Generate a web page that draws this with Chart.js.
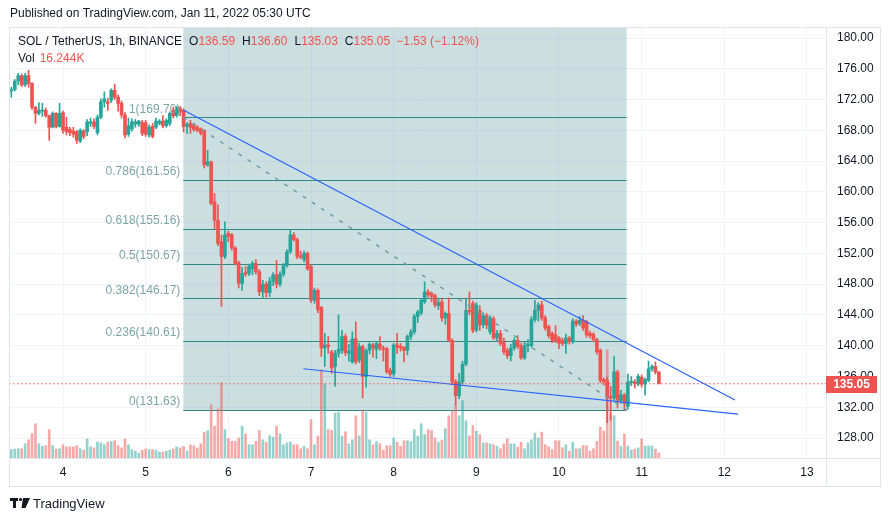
<!DOCTYPE html>
<html>
<head>
<meta charset="utf-8">
<script src="https://cdn.jsdelivr.net/npm/chart.js@4.4.1/dist/chart.umd.min.js"></script>
<style>
  html, body { margin: 0; padding: 0; background: #fff; }
  canvas { display: block; }
</style>
</head>
<body>
<canvas id="chart" width="891" height="521"></canvas>
<script>
// hours are counted from Jan 4 2022 00:00 UTC, first candle is Jan 3 09:00
const firstHour = -15;

const opens = [
  173.1, 173.3, 174.4, 175.1, 173.9, 175.1, 174.1, 171.0, 170.2, 170.5,
  170.6, 169.9, 168.4, 170.2, 168.5, 170.3, 168.4, 168.1, 167.9, 167.8,
  166.6, 167.9, 167.8, 168.9, 169.1, 167.7, 169.7, 171.7, 171.7, 171.9,
  173.2, 172.3, 171.5, 170.0, 167.5, 168.2, 168.8, 168.8, 169.0, 169.0,
  167.4, 168.5, 168.4, 168.9, 169.2, 168.6, 168.9, 170.6, 169.9, 170.9,
  170.6, 168.5, 168.9, 168.7, 168.4, 168.2, 168.0, 163.5, 163.9, 158.7,
  156.3, 153.5, 151.6, 154.6, 154.4, 152.7, 150.8, 148.1, 149.5, 149.4,
  150.0, 150.7, 149.6, 147.0, 148.0, 146.9, 148.4, 149.2, 148.0, 149.3,
  150.4, 152.2, 154.4, 153.8, 151.7, 151.2, 152.0, 150.3, 145.9, 147.2,
  145.0, 139.7, 140.1, 139.2, 137.3, 139.0, 139.4, 141.2, 139.0, 137.9,
  140.9, 138.1, 139.9, 136.0, 139.4, 140.1, 139.5, 140.2, 139.7, 139.6,
  136.8, 136.3, 140.1, 139.9, 139.8, 139.4, 141.2, 141.8, 143.8, 144.3,
  145.7, 147.0, 146.8, 146.5, 145.2, 145.7, 143.6, 144.2, 140.7, 135.3,
  133.5, 135.3, 137.6, 144.6, 145.5, 142.0, 144.6, 142.7, 143.9, 141.8,
  143.5, 141.0, 141.6, 140.4, 139.4, 138.7, 139.7, 140.7, 140.0, 138.4,
  140.0, 140.0, 143.4, 144.6, 145.3, 143.6, 142.5, 141.6, 141.4, 141.0,
  140.7, 140.3, 141.0, 140.5, 143.2, 142.9, 143.3, 143.1, 141.6, 141.5,
  140.8, 139.4, 135.6, 135.5, 133.4, 133.2, 136.6, 132.9, 133.6, 132.1,
  135.2, 135.3, 135.0, 135.9, 135.0, 135.5, 137.0, 137.3, 136.59
];
const highs = [
  173.6, 174.6, 175.4, 175.3, 175.4, 175.8, 174.2, 171.1, 171.6, 171.5,
  170.9, 170.0, 170.4, 170.3, 171.5, 170.5, 169.7, 168.4, 168.4, 168.0,
  168.2, 168.1, 169.4, 169.6, 169.5, 170.0, 172.1, 173.0, 172.2, 173.4,
  174.0, 172.6, 171.8, 170.3, 169.6, 169.5, 169.4, 169.3, 169.3, 169.3,
  168.7, 168.9, 169.6, 169.4, 169.9, 169.5, 170.4, 171.0, 171.1, 171.1,
  170.8, 169.0, 169.3, 168.9, 168.6, 168.3, 168.1, 165.4, 164.0, 159.8,
  158.3, 154.4, 156.1, 154.9, 154.6, 152.9, 151.0, 150.2, 150.3, 150.6,
  151.0, 151.2, 149.9, 148.5, 148.3, 148.9, 149.5, 151.1, 149.6, 150.7,
  152.5, 155.0, 154.7, 154.0, 152.3, 152.3, 152.2, 150.5, 147.5, 147.4,
  145.1, 141.6, 141.2, 139.4, 139.4, 144.0, 142.0, 141.5, 140.2, 141.8,
  143.1, 140.3, 140.1, 139.6, 140.4, 140.3, 140.5, 141.2, 140.0, 139.8,
  137.1, 140.3, 141.6, 140.3, 139.9, 141.4, 142.1, 144.1, 144.6, 146.1,
  148.3, 147.3, 147.0, 146.7, 146.2, 146.2, 144.4, 146.2, 140.9, 135.6,
  136.4, 138.0, 146.2, 147.0, 145.8, 145.6, 145.2, 144.3, 144.2, 143.9,
  143.8, 142.0, 142.0, 141.0, 139.7, 140.2, 141.0, 141.3, 140.3, 140.3,
  140.8, 143.8, 145.9, 145.6, 145.8, 143.9, 142.7, 141.8, 142.6, 141.2,
  141.0, 141.5, 141.2, 143.5, 143.4, 143.8, 143.9, 143.3, 141.9, 141.7,
  141.0, 139.6, 135.8, 135.9, 134.7, 138.6, 136.8, 134.2, 133.8, 136.3,
  136.0, 135.6, 136.3, 136.2, 135.8, 138.0, 137.5, 137.9, 136.60
];
const lows = [
  172.3, 173.1, 173.9, 173.7, 173.7, 173.6, 170.7, 168.9, 170.0, 169.8,
  169.7, 166.7, 168.3, 168.3, 168.4, 167.6, 167.4, 167.3, 167.1, 166.3,
  166.4, 166.9, 167.3, 168.5, 168.2, 167.4, 169.5, 171.0, 170.6, 171.6,
  172.0, 170.5, 169.6, 167.0, 167.2, 167.9, 168.4, 168.5, 167.3, 167.2,
  167.1, 167.0, 168.2, 168.7, 168.3, 168.4, 168.6, 169.6, 169.7, 169.9,
  167.8, 167.6, 167.6, 167.9, 167.8, 167.4, 163.1, 163.3, 158.3, 155.2,
  153.0, 145.1, 151.3, 153.5, 152.4, 150.5, 147.5, 147.2, 149.0, 149.1,
  149.2, 149.3, 146.5, 146.2, 146.3, 146.4, 147.8, 147.5, 147.7, 149.0,
  150.2, 152.0, 153.6, 151.3, 151.3, 150.9, 149.8, 145.6, 145.5, 144.3,
  138.6, 137.3, 139.0, 136.4, 134.7, 138.5, 139.0, 138.7, 138.0, 137.7,
  137.6, 137.8, 133.2, 134.6, 138.9, 138.5, 138.3, 139.4, 138.0, 136.4,
  136.0, 136.0, 139.0, 139.3, 137.9, 138.8, 140.8, 141.5, 143.0, 144.0,
  145.5, 146.3, 145.7, 145.0, 144.7, 143.2, 142.8, 140.5, 134.9, 132.3,
  133.1, 135.0, 137.4, 144.0, 141.7, 141.8, 142.0, 142.3, 142.2, 141.5,
  140.8, 140.6, 140.0, 138.9, 138.3, 138.0, 139.4, 139.6, 138.2, 138.2,
  139.2, 139.8, 143.1, 143.2, 143.3, 142.0, 141.0, 140.4, 140.4, 139.6,
  140.0, 139.0, 140.2, 140.3, 142.5, 142.6, 142.0, 141.1, 141.0, 140.5,
  138.9, 135.2, 134.9, 130.0, 130.3, 132.9, 131.9, 132.5, 131.6, 131.7,
  134.8, 134.5, 134.8, 134.6, 133.6, 135.3, 136.7, 136.3, 135.03
];
const closes = [
  173.3, 174.4, 175.1, 173.9, 175.1, 174.1, 171.0, 170.2, 170.6, 170.6,
  169.9, 168.4, 170.2, 168.5, 170.2, 168.0, 167.8, 167.7, 167.5, 166.7,
  168.0, 167.2, 169.1, 169.1, 168.5, 169.7, 171.7, 172.1, 171.5, 173.2,
  172.3, 171.5, 170.0, 167.4, 168.6, 169.1, 169.1, 169.2, 167.6, 167.5,
  168.4, 167.2, 169.2, 169.2, 168.6, 169.3, 170.2, 169.9, 170.9, 170.4,
  168.5, 168.8, 168.4, 168.1, 168.0, 167.6, 163.5, 163.9, 158.5, 156.3,
  153.3, 151.6, 154.4, 154.2, 152.7, 150.7, 148.1, 149.4, 149.3, 150.3,
  150.7, 149.6, 147.0, 148.0, 146.9, 148.4, 149.2, 148.0, 149.3, 150.4,
  152.2, 154.4, 153.8, 151.6, 151.5, 152.0, 150.0, 145.9, 147.2, 144.7,
  139.7, 140.1, 139.9, 137.1, 139.0, 139.5, 141.2, 139.1, 139.3, 140.9,
  137.9, 139.9, 136.0, 139.4, 140.2, 139.7, 140.3, 139.7, 139.5, 136.6,
  136.3, 140.1, 139.8, 139.7, 139.4, 141.2, 141.8, 143.8, 144.4, 145.9,
  147.0, 146.6, 146.4, 145.3, 145.6, 143.6, 144.2, 140.7, 135.3, 133.5,
  135.3, 137.6, 144.6, 144.4, 142.0, 145.3, 142.7, 143.9, 142.7, 143.6,
  141.0, 141.6, 140.3, 139.2, 138.7, 139.7, 140.7, 139.9, 138.4, 140.0,
  140.2, 143.4, 144.6, 145.3, 143.6, 142.3, 141.3, 140.7, 140.7, 140.3,
  140.3, 141.0, 140.5, 143.2, 142.8, 143.3, 142.3, 141.4, 141.3, 140.8,
  139.2, 135.5, 135.3, 133.2, 133.2, 136.6, 132.9, 133.6, 132.5, 135.3,
  135.4, 135.1, 136.0, 135.0, 135.6, 137.0, 137.3, 136.58, 135.05
];
// volume in thousands of SOL
const volumes = [
  27, 29, 30, 30, 46, 59, 79, 111, 46, 38,
  40, 92, 40, 29, 30, 43, 36, 36, 36, 40,
  30, 25, 62, 36, 33, 52, 49, 43, 51, 54,
  56, 40, 33, 62, 43, 27, 22, 16, 25, 29,
  27, 27, 25, 19, 19, 22, 25, 29, 36, 33,
  38, 22, 43, 40, 33, 46, 84, 89, 173, 103,
  159, 244, 92, 63, 54, 54, 65, 103, 78, 43,
  43, 54, 89, 59, 51, 72, 68, 103, 78, 43,
  49, 52, 43, 43, 30, 38, 30, 124, 43, 71,
  286, 241, 92, 89, 146, 149, 71, 85, 46, 59,
  137, 72, 154, 149, 59, 43, 53, 46, 25, 40,
  40, 65, 51, 38, 56, 56, 53, 92, 71, 111,
  76, 92, 89, 65, 51, 58, 95, 137, 152, 173,
  137, 186, 121, 72, 105, 87, 76, 49, 49, 46,
  43, 38, 30, 46, 62, 46, 46, 35, 51, 30,
  49, 59, 81, 65, 84, 43, 36, 27, 56, 56,
  33, 43, 22, 51, 30, 30, 40, 40, 22, 30,
  54, 100, 87, 351, 140, 137, 55, 38, 78, 39,
  26, 29, 33, 62, 39, 39, 39, 29, 16.244
];

const dayTicks = [0, 24, 48, 72, 96, 120, 144, 168, 192, 216];
const dayLabels = ['4', '5', '6', '7', '8', '9', '10', '11', '12', '13'];
const priceTicks = [128, 132, 136, 140, 144, 148, 152, 156, 160, 164, 168, 172, 176, 180];

// fibonacci retracement, drawn from Jan 5 ~11:00 to Jan 10 ~20:00
const fibRatios = ['1', '0.786', '0.618', '0.5', '0.382', '0.236', '0'];
const fibPrices = [169.70, 161.56, 155.16, 150.67, 146.17, 140.61, 131.63];
const fibSpan = [34.93, 163.65];

// trend lines as [hour, price] pairs
const upperTrend = [[34.93, 170.64], [195.1, 132.94]];
const lowerTrend = [[69.77, 137.0], [195.96, 131.1]];
const fibDiagonal = [[34.93, 169.70], [163.65, 131.63]];

const UP = '#26a69a';
const DOWN = '#ef5350';
const FONT = '"Liberation Sans", Arial, sans-serif';

const hours = opens.map((_, i) => firstHour + i);
const rising = closes.map((c, i) => c >= opens[i]);
const last = closes.length - 1;

function line(ctx, x, y, pts) {
  ctx.beginPath();
  ctx.moveTo(x.getPixelForValue(pts[0][0]), y.getPixelForValue(pts[0][1]));
  ctx.lineTo(x.getPixelForValue(pts[1][0]), y.getPixelForValue(pts[1][1]));
  ctx.stroke();
}

const drawings = {
  id: 'drawings',
  beforeDatasetsDraw(chart) {
    const {ctx, chartArea: a, scales: {x, y}} = chart;
    const x0 = x.getPixelForValue(fibSpan[0]);
    const x1 = x.getPixelForValue(fibSpan[1]);
    const yLow = y.getPixelForValue(fibPrices[fibPrices.length - 1]);
    ctx.save();
    ctx.fillStyle = 'rgba(0, 96, 100, 0.2)';
    ctx.fillRect(x0, a.top, x1 - x0, yLow - a.top);
    ctx.strokeStyle = '#2f8a87';
    ctx.lineWidth = 1;
    fibPrices.forEach(p => {
      const py = Math.round(y.getPixelForValue(p)) + 0.5;
      ctx.beginPath();
      ctx.moveTo(x0, py);
      ctx.lineTo(x1, py);
      ctx.stroke();
    });
    ctx.restore();
  },
  afterDatasetsDraw(chart) {
    const {ctx, chartArea: a, scales: {x, y}} = chart;
    ctx.save();
    ctx.beginPath();
    ctx.rect(a.left, a.top, a.right - a.left, a.bottom - a.top);
    ctx.clip();

    ctx.strokeStyle = '#6d9f9e';
    ctx.lineWidth = 1.5;
    ctx.setLineDash([4, 7]);
    line(ctx, x, y, fibDiagonal);
    ctx.setLineDash([]);

    ctx.strokeStyle = '#2962ff';
    ctx.lineWidth = 1.2;
    line(ctx, x, y, upperTrend);
    line(ctx, x, y, lowerTrend);

    // last price line
    const py = y.getPixelForValue(closes[last]);
    ctx.strokeStyle = DOWN;
    ctx.lineWidth = 1;
    ctx.setLineDash([1.5, 2.5]);
    ctx.beginPath();
    ctx.moveTo(a.left, py);
    ctx.lineTo(a.right, py);
    ctx.stroke();
    ctx.setLineDash([]);

    // fib labels
    const x0 = x.getPixelForValue(fibSpan[0]);
    ctx.font = '12px ' + FONT;
    ctx.fillStyle = '#7da5a6';
    ctx.textAlign = 'right';
    ctx.textBaseline = 'middle';
    fibPrices.forEach((p, i) => {
      ctx.fillText(fibRatios[i] + '(' + p.toFixed(2) + ')', x0 - 3, y.getPixelForValue(p) - 8);
    });
    ctx.restore();
  },
  afterDraw(chart) {
    const {ctx, chartArea: a, scales: {y}} = chart;
    ctx.save();

    // frame
    ctx.strokeStyle = '#e0e3eb';
    ctx.lineWidth = 1;
    ctx.strokeRect(9.5, 27.5, 871, 459);
    ctx.beginPath();
    ctx.moveTo(a.right + 0.5, 27.5);
    ctx.lineTo(a.right + 0.5, 486.5);
    ctx.moveTo(9.5, a.bottom + 0.5);
    ctx.lineTo(880.5, a.bottom + 0.5);
    ctx.stroke();

    // price label on axis
    const py = y.getPixelForValue(closes[last]);
    ctx.fillStyle = DOWN;
    ctx.fillRect(a.right, Math.round(py) - 8, 51, 17);
    ctx.fillStyle = '#ffffff';
    ctx.font = 'bold 12px ' + FONT;
    ctx.textAlign = 'center';
    ctx.textBaseline = 'middle';
    ctx.fillText(closes[last].toFixed(2), a.right + 25.5, Math.round(py) + 0.5);

    // header
    ctx.textAlign = 'left';
    ctx.font = '12px ' + FONT;
    ctx.fillStyle = '#131722';
    ctx.fillText('Published on TradingView.com, Jan 11, 2022 05:30 UTC', 10, 14);

    // legend
    const change = closes[last] - closes[last - 1];
    const pct = change / closes[last - 1] * 100;
    const sign = v => (v < 0 ? '\u2212' : '+') + Math.abs(v).toFixed(2);
    const valColor = rising[last] ? UP : DOWN;
    const parts = [
      ['SOL / TetherUS, 1h, BINANCE', '#131722', 7],
      ['O', '#131722', 0], [opens[last].toFixed(2), valColor, 7],
      ['H', '#131722', 0], [highs[last].toFixed(2), valColor, 7],
      ['L', '#131722', 0], [lows[last].toFixed(2), valColor, 7],
      ['C', '#131722', 0], [closes[last].toFixed(2), valColor, 6],
      [sign(change) + ' (' + sign(pct) + '%)', valColor, 0]
    ];
    ctx.font = '12px ' + FONT;
    let tx = 18;
    parts.forEach(([t, c, gap]) => {
      ctx.fillStyle = c;
      ctx.fillText(t, tx, 42);
      tx += ctx.measureText(t).width + gap;
    });
    ctx.fillStyle = '#131722';
    ctx.fillText('Vol', 18, 59);
    ctx.fillStyle = valColor;
    ctx.fillText(volumes[last].toFixed(3) + 'K', 18 + ctx.measureText('Vol').width + 5, 59);

    // logo
    ctx.fillStyle = '#131722';
    ctx.fillRect(10, 498, 8, 3);
    ctx.fillRect(13, 498, 3, 10);
    ctx.beginPath();
    ctx.arc(20.5, 499.5, 1.6, 0, Math.PI * 2);
    ctx.fill();
    ctx.beginPath();
    ctx.moveTo(23, 498);
    ctx.lineTo(30, 498);
    ctx.lineTo(25.5, 508);
    ctx.lineTo(21.5, 508);
    ctx.closePath();
    ctx.fill();
    ctx.font = '13px ' + FONT;
    ctx.fillText('TradingView', 33, 504);
    ctx.restore();
  }
};

new Chart(document.getElementById('chart'), {
  type: 'bar',
  data: {
    datasets: [
      {
        label: 'Volume',
        yAxisID: 'vol',
        data: hours.map((h, i) => ({x: h, y: volumes[i]})),
        backgroundColor: rising.map(r => r ? 'rgba(38, 166, 154, 0.5)' : 'rgba(239, 83, 80, 0.5)'),
        barThickness: 2,
        grouped: false,
        order: 3
      },
      {
        label: 'Wick',
        data: hours.map((h, i) => ({x: h, y: [lows[i], highs[i]]})),
        backgroundColor: rising.map(r => r ? UP : DOWN),
        barThickness: 1,
        grouped: false,
        order: 2
      },
      {
        label: 'Body',
        data: hours.map((h, i) => ({x: h, y: [opens[i], closes[i]]})),
        backgroundColor: rising.map(r => r ? UP : DOWN),
        barThickness: 3,
        minBarLength: 1,
        grouped: false,
        order: 1
      }
    ]
  },
  options: {
    responsive: false,
    animation: false,
    layout: {padding: {left: 9, right: 10, top: 27, bottom: 35}},
    plugins: {legend: {display: false}, tooltip: {enabled: false}},
    scales: {
      x: {
        type: 'linear',
        min: -15.68,
        max: 221.52,
        offset: false,
        grid: {color: '#f0f3fa', drawTicks: false, offset: false},
        border: {display: false},
        afterBuildTicks: s => { s.ticks = dayTicks.map(v => ({value: v})); },
        afterFit: s => { s.height = 28; },
        ticks: {
          autoSkip: false,
          maxRotation: 0,
          padding: 7,
          color: '#131722',
          font: {family: FONT, size: 12},
          callback: (v, i) => dayLabels[i]
        }
      },
      y: {
        position: 'right',
        min: 125.4,
        max: 181.43,
        beginAtZero: false,
        grid: {color: '#f0f3fa', drawTicks: false},
        border: {display: false},
        afterBuildTicks: s => { s.ticks = priceTicks.map(v => ({value: v})); },
        afterFit: s => { s.width = 55; },
        ticks: {
          padding: 11,
          color: '#131722',
          font: {family: FONT, size: 12},
          callback: v => v.toFixed(2)
        }
      },
      vol: {
        display: false,
        min: 0,
        max: 1397.5
      }
    }
  },
  plugins: [drawings]
});
</script>
</body>
</html>
